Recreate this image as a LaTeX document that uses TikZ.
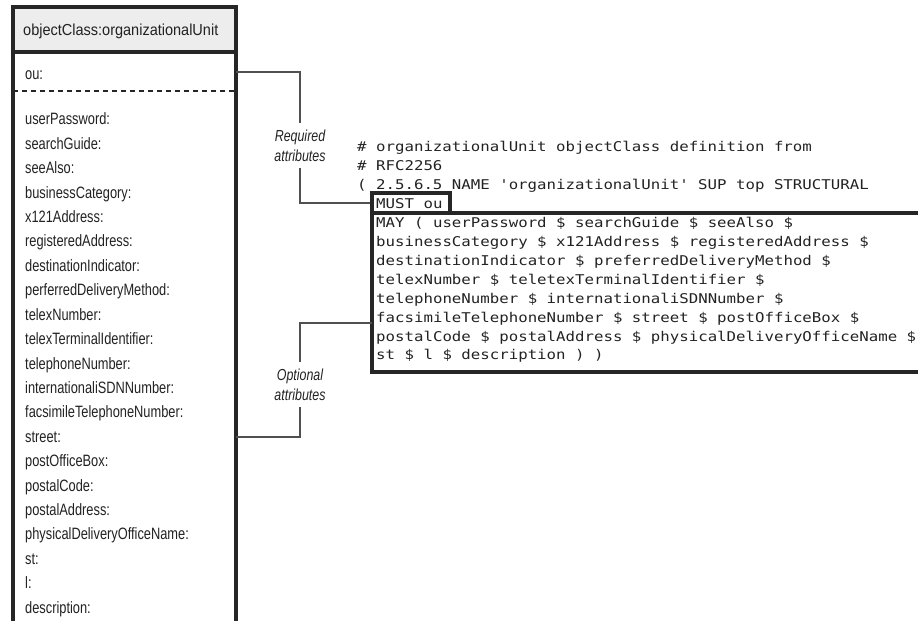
\documentclass[tikz,border=0pt]{standalone}
\usepackage{fontspec}
\setmainfont[FakeStretch=0.91]{Liberation Sans}
\newfontfamily\itemfont[FakeStretch=0.78]{Liberation Sans}
\setmonofont[FakeStretch=1.17]{DejaVu Sans Mono}
\definecolor{ink}{HTML}{222222}
\definecolor{boxline}{HTML}{262626}
\definecolor{conn}{HTML}{505050}
\definecolor{headfill}{HTML}{EDEDED}
\tikzset{
  item/.style={anchor=base west, inner sep=0pt, text=ink, font=\itemfont\fontsize{16.5}{19}\selectfont},
  hdrtext/.style={anchor=base west, inner sep=0pt, text=ink, font=\fontsize{16}{19}\selectfont},
  code/.style={anchor=base west, inner sep=0pt, text=ink, font=\ttfamily\fontsize{13.5}{16}\selectfont},
  lbl/.style={inner sep=0pt, align=center, text=ink, minimum height=45bp, font=\itemfont\itshape\fontsize{16}{20}\selectfont},
  thickbox/.style={draw=boxline, line width=3.2bp},
  connector/.style={draw=conn, line width=1.4bp},
}
\begin{document}
\begin{tikzpicture}[x=1bp,y=-1bp]
\useasboundingbox (0,0) rectangle (918,621);
% left class box
\fill[headfill] (13,7) rectangle (236,52);
\draw[thickbox] (13,640) -- (13,7) -- (236,7) -- (236,640);
\draw[thickbox] (13,52) -- (236,52);
\draw[draw=boxline, line width=2.4bp, dash pattern=on 5bp off 4bp] (13,91) -- (236,91);
\node[hdrtext] (hdr) at (23,36) {objectClass:organizationalUnit};
\node[item] (ou) at (25,80) {ou:};
\foreach \t [count=\i from 0] in {userPassword:,searchGuide:,seeAlso:,businessCategory:,x121Address:,registeredAddress:,destinationIndicator:,perferredDeliveryMethod:,telexNumber:,telexTerminalIdentifier:,telephoneNumber:,internationaliSDNNumber:,facsimileTelephoneNumber:,street:,postOfficeBox:,postalCode:,postalAddress:,physicalDeliveryOfficeName:,st:,l:,description:}
  \node[item] (a\i) at (25,{125+24.4*\i}) {\t};
% labels
\node[lbl] (req) at (300,145.5) {Required\\attributes};
\node[lbl] (opt) at (300,384.5) {Optional\\attributes};
% code text
\node[code] (c1) at (357,152) {\# organizationalUnit objectClass definition from};
\node[code] (c2) at (357,170.9) {\# RFC2256};
\node[code] (c3) at (357,189.8) {( 2.5.6.5 NAME 'organizationalUnit' SUP top STRUCTURAL};
\node[code] (c4) at (376,208.7) {MUST ou};
\node[code] (c5) at (376,227.6) {MAY ( userPassword \$ searchGuide \$ seeAlso \$};
\node[code] (c6) at (376,246.5) {businessCategory \$ x121Address \$ registeredAddress \$};
\node[code] (c7) at (376,265.4) {destinationIndicator \$ preferredDeliveryMethod \$};
\node[code] (c8) at (376,284.3) {telexNumber \$ teletexTerminalIdentifier \$};
\node[code] (c9) at (376,303.2) {telephoneNumber \$ internationaliSDNNumber \$};
\node[code] (c10) at (376,322.1) {facsimileTelephoneNumber \$ street \$ postOfficeBox \$};
\node[code] (c11) at (376,341) {postalCode \$ postalAddress \$ physicalDeliveryOfficeName \$};
\node[code] (c12) at (376,359.9) {st \$ l \$ description ) )};
% boxes around MUST / MAY
\node[thickbox, minimum width=78bp, minimum height=20bp, inner sep=0pt] (must) at (411,203) {};
\draw[thickbox] (372,213) rectangle (935,372);
\coordinate (mayL) at (372,323);
\coordinate (ouR) at (236,72);
\coordinate (optR) at (236,437);
% connectors
\draw[connector] (ouR) -| (req.north);
\draw[connector] (req.south) |- (must.west);
\draw[connector] (opt.north) |- (mayL);
\draw[connector] (opt.south) |- (optR);
\end{tikzpicture}
\end{document}
